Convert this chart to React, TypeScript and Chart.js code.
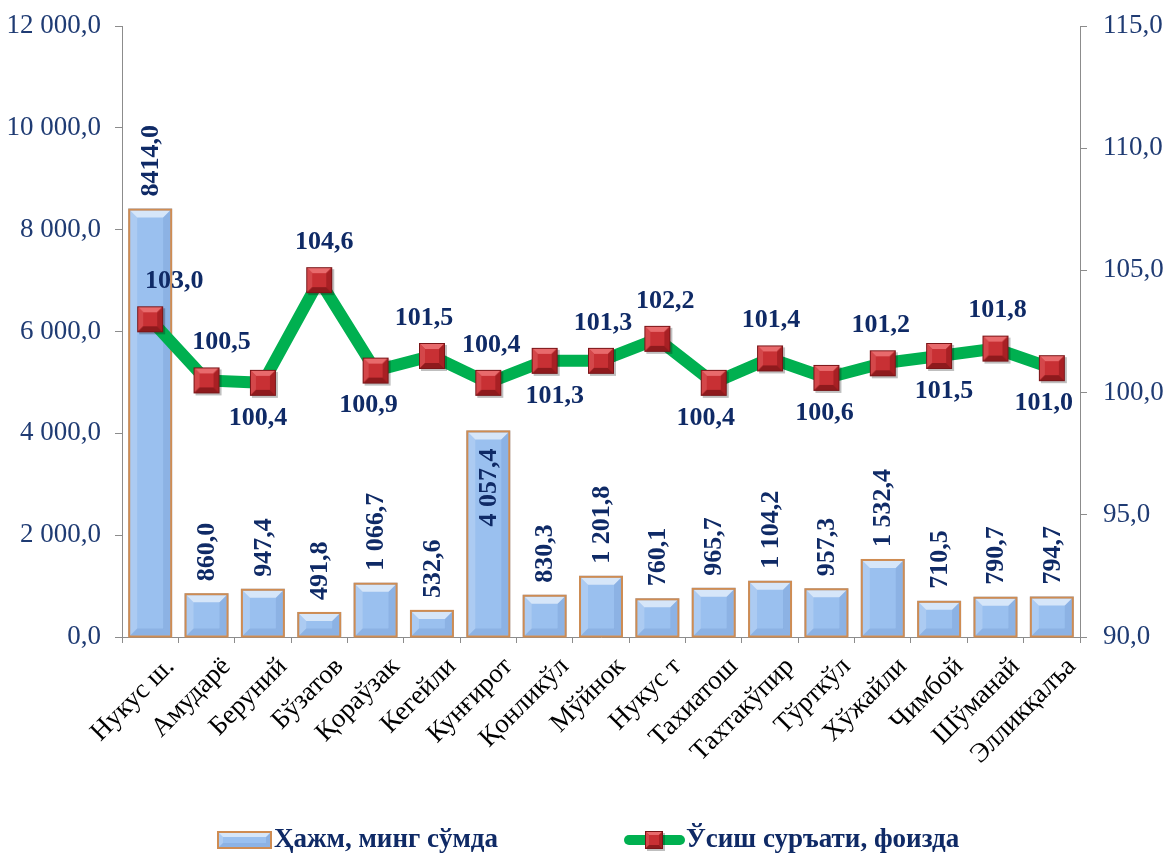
import { useEffect, useRef } from 'react';
import { Chart, registerables } from 'chart.js';

Chart.register(...registerables);

const categories = [
  'Нукус ш.', 'Амударё', 'Беруний', 'Бўзатов', 'Қораўзак', 'Кегейли', 'Кунғирот',
  'Қонликўл', 'Мўйнок', 'Нукус т', 'Тахиатош', 'Тахтакўпир', 'Тўрткўл', 'Хўжайли',
  'Чимбой', 'Шўманай', 'Элликқалъа',
];

const volumeValues = [
  8414.0, 860.0, 947.4, 491.8, 1066.7, 532.6, 4057.4, 830.3, 1201.8, 760.1,
  965.7, 1104.2, 957.3, 1532.4, 710.5, 790.7, 794.7,
];

const volumeLabels = [
  '8414,0', '860,0', '947,4', '491,8', '1 066,7', '532,6', '4 057,4', '830,3', '1 201,8',
  '760,1', '965,7', '1 104,2', '957,3', '1 532,4', '710,5', '790,7', '794,7',
];

const growthValues = [
  103.0, 100.5, 100.4, 104.6, 100.9, 101.5, 100.4, 101.3, 101.3, 102.2,
  100.4, 101.4, 100.6, 101.2, 101.5, 101.8, 101.0,
];

// label placement for the line labels (above / below the marker)
const growthLabelAbove = [
  true, true, false, true, false, true, true, false, true, true,
  false, true, false, true, false, true, false,
];
const growthLabelShiftX = [24, 15, -5, 5, -7, -8, 3, 10, 2, 8, -8, 1, -2, -2, 5, 2, -8];

// bar labels drawn inside the bar end
const volumeLabelInside = [6];

const leftTicks = { min: 0, max: 12000, step: 2000 };
const rightTicks = { min: 90, max: 115, step: 5 };

const seriesNames = ['Ҳажм, минг сўмда', 'Ўсиш суръати, фоизда'];

const SERIF = "'Liberation Serif', 'Times New Roman', 'DejaVu Serif', serif";
const NAVY = '#0F2A66';
const TICK_NAVY = '#1F3B73';
const AXIS_GRAY = '#8C8C8C';
const BAR_FILL = '#9AC0EF';
const BAR_BORDER = '#CF8C52';
const LINE_GREEN = '#00B050';

function fmtLeft(v: number): string {
  const [i, d] = v.toFixed(1).split('.');
  return i.replace(/\B(?=(\d{3})+(?!\d))/g, ' ') + ',' + d;
}
function fmtRight(v: number): string {
  return v.toFixed(1).replace('.', ',');
}

function makeMarker(size: number): HTMLCanvasElement {
  const pad = 3;
  const c = document.createElement('canvas');
  c.width = size + pad * 2;
  c.height = size + pad * 2;
  const g = c.getContext('2d')!;
  const l = pad, t = pad, r = pad + size, b = pad + size;
  const bev = Math.round(size * 0.22);
  g.fillStyle = 'rgba(0,0,0,0.25)';
  g.fillRect(l + 2, t + 2, size, size);
  g.fillStyle = '#C62B2E';
  g.fillRect(l, t, size, size);
  const poly = (pts: number[][], col: string) => {
    g.beginPath();
    g.moveTo(pts[0][0], pts[0][1]);
    for (let i = 1; i < pts.length; i++) g.lineTo(pts[i][0], pts[i][1]);
    g.closePath();
    g.fillStyle = col;
    g.fill();
  };
  poly([[l, t], [r, t], [r - bev, t + bev], [l + bev, t + bev]], '#E86A6C');
  poly([[l, t], [l + bev, t + bev], [l + bev, b - bev], [l, b]], '#D4474A');
  poly([[r, t], [r, b], [r - bev, b - bev], [r - bev, t + bev]], '#A82024');
  poly([[l, b], [r, b], [r - bev, b - bev], [l + bev, b - bev]], '#8E1A1D');
  g.fillStyle = '#C83034';
  g.fillRect(l + bev, t + bev, size - 2 * bev, size - 2 * bev);
  g.strokeStyle = '#7A1518';
  g.lineWidth = 1;
  g.strokeRect(l + 0.5, t + 0.5, size - 1, size - 1);
  return c;
}

function drawBevelRect(ctx: CanvasRenderingContext2D, l: number, t: number, r: number, b: number, bev: number) {
  const h = b - t;
  const bv = Math.min(bev, h / 2, (r - l) / 2);
  const poly = (pts: number[][], col: string) => {
    ctx.beginPath();
    ctx.moveTo(pts[0][0], pts[0][1]);
    for (let i = 1; i < pts.length; i++) ctx.lineTo(pts[i][0], pts[i][1]);
    ctx.closePath();
    ctx.fillStyle = col;
    ctx.fill();
  };
  poly([[l, t], [r, t], [r - bv, t + bv], [l + bv, t + bv]], 'rgba(255,255,255,0.6)');
  poly([[l, t], [l + bv, t + bv], [l + bv, b - bv], [l, b]], 'rgba(255,255,255,0.18)');
  poly([[r, t], [r, b], [r - bv, b - bv], [r - bv, t + bv]], 'rgba(20,60,140,0.10)');
  poly([[l, b], [r, b], [r - bv, b - bv], [l + bv, b - bv]], 'rgba(20,60,140,0.10)');
}

const barBevelPlugin = {
  id: 'barBevel',
  afterDatasetDraw(chart: any, args: any) {
    if (args.index !== 0) return;
    const ctx = chart.ctx as CanvasRenderingContext2D;
    const meta = chart.getDatasetMeta(0);
    ctx.save();
    meta.data.forEach((bar: any) => {
      const { x, y, base, width } = bar.getProps(['x', 'y', 'base', 'width'], true);
      const l = x - width / 2 + 2, r = x + width / 2 - 2;
      const t = y + 2, b = base - 1;
      drawBevelRect(ctx, l, t, r, b, 7);
      ctx.strokeStyle = BAR_BORDER;
      ctx.lineWidth = 2;
      ctx.strokeRect(x - width / 2 + 1, y + 1, width - 2, base - y - 1);
    });
    ctx.restore();
  },
};

const labelsPlugin = {
  id: 'valueLabels',
  afterDatasetsDraw(chart: any) {
    const ctx = chart.ctx as CanvasRenderingContext2D;
    ctx.save();
    ctx.fillStyle = NAVY;
    ctx.font = `bold 26px ${SERIF}`;
    const bars = chart.getDatasetMeta(0).data;
    bars.forEach((bar: any, i: number) => {
      const { x, y } = bar.getProps(['x', 'y'], true);
      ctx.save();
      const inside = volumeLabelInside.includes(i);
      ctx.translate(x + 1, inside ? y + 18 : y - 12);
      ctx.rotate(-Math.PI / 2);
      ctx.textAlign = inside ? 'right' : 'left';
      ctx.textBaseline = 'middle';
      ctx.fillText(volumeLabels[i], 0, 0);
      ctx.restore();
    });
    const pts = chart.getDatasetMeta(1).data;
    ctx.textAlign = 'center';
    ctx.textBaseline = 'middle';
    pts.forEach((p: any, i: number) => {
      const { x, y } = p.getProps(['x', 'y'], true);
      const dy = growthLabelAbove[i] ? -38 : 35;
      ctx.fillText(fmtRight(growthValues[i]), x + growthLabelShiftX[i], y + dy);
    });
    ctx.restore();
  },
};

const legendPlugin = {
  id: 'customLegend',
  afterDraw(chart: any) {
    const ctx = chart.ctx as CanvasRenderingContext2D;
    const cy = 840;
    ctx.save();
    const bl = 218, br = 271, bt = 832, bb = 848;
    ctx.fillStyle = BAR_FILL;
    ctx.fillRect(bl, bt, br - bl, bb - bt);
    drawBevelRect(ctx, bl, bt, br, bb, 5);
    ctx.strokeStyle = BAR_BORDER;
    ctx.lineWidth = 2;
    ctx.strokeRect(bl, bt, br - bl, bb - bt);
    ctx.font = `bold 27px ${SERIF}`;
    ctx.fillStyle = NAVY;
    ctx.textAlign = 'left';
    ctx.textBaseline = 'middle';
    ctx.fillText(seriesNames[0], 274, cy);
    ctx.strokeStyle = LINE_GREEN;
    ctx.lineWidth = 10;
    ctx.lineCap = 'round';
    ctx.beginPath();
    ctx.moveTo(629, cy);
    ctx.lineTo(680, cy);
    ctx.stroke();
    const m = makeMarker(18);
    ctx.drawImage(m, 654 - m.width / 2, cy - m.height / 2);
    ctx.fillStyle = NAVY;
    ctx.fillText(seriesNames[1], 686, cy);
    ctx.restore();
  },
};

export default function App() {
  const ref = useRef<HTMLCanvasElement | null>(null);

  useEffect(() => {
    if (!ref.current) return;
    const marker = makeMarker(26);
    const chart = new Chart(ref.current, {
      type: 'bar',
      data: {
        labels: categories,
        datasets: [
          {
            type: 'bar',
            label: seriesNames[0],
            data: volumeValues,
            yAxisID: 'y',
            backgroundColor: BAR_FILL,
            borderColor: BAR_BORDER,
            borderWidth: 0,
            barPercentage: 0.78,
            categoryPercentage: 1,
            order: 1,
          },
          {
            type: 'line',
            label: seriesNames[1],
            data: growthValues,
            yAxisID: 'y1',
            borderColor: LINE_GREEN,
            borderWidth: 12,
            tension: 0,
            pointStyle: marker as any,
            pointRadius: 14,
            pointHoverRadius: 14,
            order: 0,
          },
        ],
      },
      options: {
        responsive: false,
        animation: false,
        maintainAspectRatio: false,
        layout: { padding: { top: 19, left: 0, right: 0, bottom: 0 } },
        plugins: {
          legend: { display: false },
          tooltip: { enabled: false },
        },
        scales: {
          x: {
            offset: true,
            grid: {
              offset: true,
              drawOnChartArea: false,
              drawTicks: true,
              tickLength: 6,
              color: AXIS_GRAY,
            },
            border: { color: AXIS_GRAY, width: 1 },
            ticks: {
              autoSkip: false,
              maxRotation: 45,
              minRotation: 45,
              padding: 8,
              labelOffset: 20,
              color: '#000000',
              font: { family: SERIF, size: 27 },
            },
            afterFit: (s: any) => {
              s.height = 856 - 637;
              s.paddingLeft = 0;
              s.paddingRight = 0;
            },
          },
          y: {
            position: 'left',
            min: leftTicks.min,
            max: leftTicks.max,
            grid: { drawOnChartArea: false, tickLength: 7, color: AXIS_GRAY },
            border: { color: AXIS_GRAY, width: 1 },
            ticks: {
              stepSize: leftTicks.step,
              padding: 14,
              color: TICK_NAVY,
              font: { family: SERIF, size: 27 },
              callback: (v: any) => fmtLeft(Number(v)),
            },
            afterFit: (s: any) => {
              s.width = 122;
              s.paddingTop = 0;
              s.paddingBottom = 0;
            },
          },
          y1: {
            position: 'right',
            min: rightTicks.min,
            max: rightTicks.max,
            grid: { drawOnChartArea: false, tickLength: 7, color: AXIS_GRAY },
            border: { color: AXIS_GRAY, width: 1 },
            ticks: {
              stepSize: rightTicks.step,
              padding: 16,
              color: TICK_NAVY,
              font: { family: SERIF, size: 27 },
              callback: (v: any) => fmtRight(Number(v)),
            },
            afterFit: (s: any) => {
              s.width = 89;
              s.paddingTop = 0;
              s.paddingBottom = 0;
            },
          },
        },
      },
      plugins: [barBevelPlugin, labelsPlugin, legendPlugin],
    });
    return () => chart.destroy();
  }, []);

  return (
    <div style={{ position: 'absolute', left: 0, top: 0, width: 1169, height: 856, background: '#ffffff' }}>
      <canvas ref={ref} width={1169} height={856} style={{ display: 'block', width: 1169, height: 856 }} />
    </div>
  );
}
